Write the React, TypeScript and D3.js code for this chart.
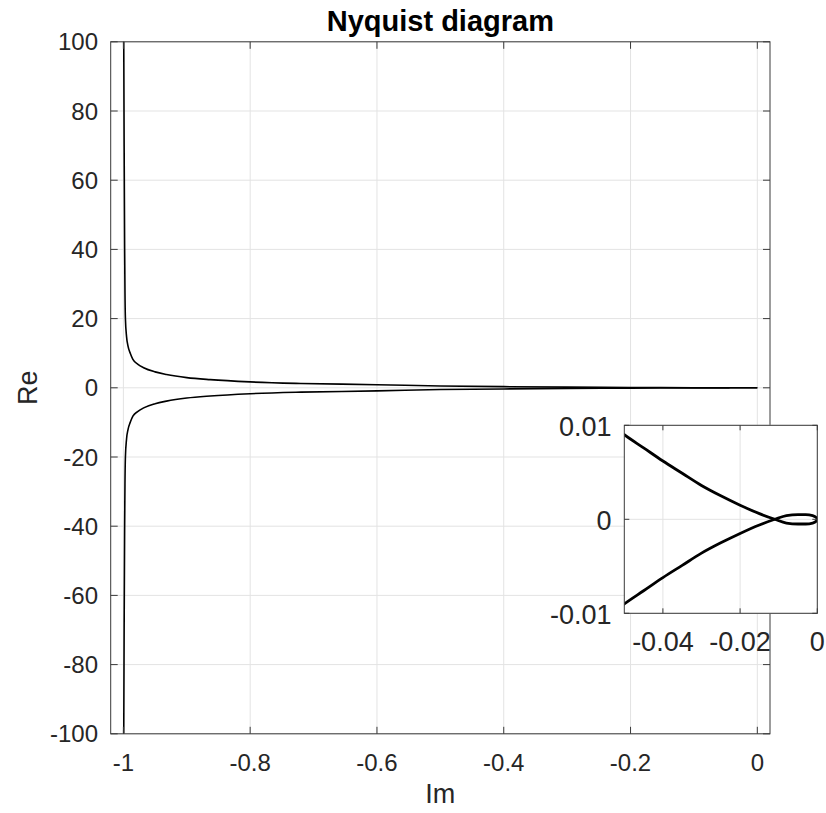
import React from "react";
import * as d3 from "d3";

// Upper branch of the Nyquist curve (Im on x, Re on y); lower branch is its mirror
const branchX = [-0.9996, -0.9988, -0.998, -0.9975, -0.9968, -0.995, -0.9926, -0.989, -0.985, -0.977, -0.968, -0.95, -0.932, -0.9, -0.863, -0.8, -0.72, -0.6, -0.5, -0.4, -0.3, -0.2, -0.1, -0.05, -0.045, -0.04, -0.035, -0.03, -0.025, -0.02, -0.015, -0.011, -0.008, -0.005, -0.003, -0.0012, -0.0003, 0];
const branchY = [110, 70, 40, 28, 20, 14.8, 12.0, 9.9, 8.2, 6.8, 5.8, 4.6, 3.85, 2.95, 2.35, 1.7, 1.25, 0.9, 0.5, 0.33, 0.2, 0.1, 0.035, 0.009, 0.0076, 0.0062, 0.0049, 0.0036, 0.0025, 0.0015, 0.0006, 0, -0.0004, -0.0005, -0.0005, -0.0004, -0.0002, 0];

const mainXTicks = [-1, -0.8, -0.6, -0.4, -0.2, 0];
const mainYTicks = [-100, -80, -60, -40, -20, 0, 20, 40, 60, 80, 100];
const insetXTicks = [-0.04, -0.02, 0];
const insetYTicks = [-0.01, 0, 0.01];

const title = "Nyquist diagram";
const xLabel = "Im";
const yLabel = "Re";

const FONT = "'Liberation Sans', Arial, Helvetica, sans-serif";
const TEXT = "#262626";
const AXIS = "#3a3a3a";
const GRID = "#e3e3e3";

const upper = branchX.map((x, i) => [x, branchY[i]] as [number, number]);
const lower = branchX.map((x, i) => [x, -branchY[i]] as [number, number]);

function fmt(v: number) {
  return String(v);
}

export default function App() {
  // main axes
  const M = { left: 110.7, right: 770, top: 41.8, bottom: 733.8 };
  const x = d3.scaleLinear().domain([-1.02, 0.02]).range([M.left, M.right]);
  const y = d3.scaleLinear().domain([-100, 100]).range([M.bottom, M.top]);
  const line = d3.line<[number, number]>().x((d) => x(d[0])).y((d) => y(d[1])).curve(d3.curveMonotoneX);

  // inset axes
  const I = { left: 624.3, right: 817.3, top: 425.3, bottom: 613.3 };
  const xi = d3.scaleLinear().domain([-0.05, 0]).range([I.left, I.right]);
  const yi = d3.scaleLinear().domain([-0.01, 0.01]).range([I.bottom, I.top]);
  const lineI = d3.line<[number, number]>().x((d) => xi(d[0])).y((d) => yi(d[1])).curve(d3.curveMonotoneX);

  const tick = 7;
  const tickI = 5;
  const FS = 24;
  const FSI = 27;

  return (
    <svg width={826} height={813} style={{ position: "absolute", left: 0, top: 0, background: "#fff" }} fontFamily={FONT}>
      <defs>
        <clipPath id="mainClip">
          <rect x={M.left} y={M.top} width={M.right - M.left} height={M.bottom - M.top} />
        </clipPath>
        <clipPath id="insetClip">
          <rect x={I.left} y={I.top} width={I.right - I.left} height={I.bottom - I.top} />
        </clipPath>
      </defs>
      <rect x={0} y={0} width={826} height={813} fill="#fff" />

      {/* main grid */}
      {mainXTicks.map((t) => (
        <line key={"gx" + t} x1={x(t)} x2={x(t)} y1={M.top} y2={M.bottom} stroke={GRID} strokeWidth={1} />
      ))}
      {mainYTicks.map((t) => (
        <line key={"gy" + t} x1={M.left} x2={M.right} y1={y(t)} y2={y(t)} stroke={GRID} strokeWidth={1} />
      ))}

      {/* main curve */}
      <g clipPath="url(#mainClip)">
        <path d={line(upper) || ""} fill="none" stroke="#000" strokeWidth={1.6} />
        <path d={line(lower) || ""} fill="none" stroke="#000" strokeWidth={1.6} />
      </g>

      {/* main box and ticks */}
      <rect x={M.left} y={M.top} width={M.right - M.left} height={M.bottom - M.top} fill="none" stroke={AXIS} strokeWidth={1} />
      {mainXTicks.map((t) => (
        <g key={"tx" + t}>
          <line x1={x(t)} x2={x(t)} y1={M.bottom} y2={M.bottom - tick} stroke={AXIS} />
          <line x1={x(t)} x2={x(t)} y1={M.top} y2={M.top + tick} stroke={AXIS} />
          <text x={x(t)} y={771} textAnchor="middle" fontSize={FS} fill={TEXT}>{fmt(t)}</text>
        </g>
      ))}
      {mainYTicks.map((t) => (
        <g key={"ty" + t}>
          <line x1={M.left} x2={M.left + tick} y1={y(t)} y2={y(t)} stroke={AXIS} />
          <line x1={M.right} x2={M.right - tick} y1={y(t)} y2={y(t)} stroke={AXIS} />
          <text x={98} y={y(t) + 8.5} textAnchor="end" fontSize={FS} fill={TEXT}>{fmt(t)}</text>
        </g>
      ))}

      {/* labels */}
      <text x={(M.left + M.right) / 2} y={31} textAnchor="middle" fontSize={29} fontWeight="bold" fill="#000">{title}</text>
      <text x={(M.left + M.right) / 2} y={803} textAnchor="middle" fontSize={27} fill={TEXT}>{xLabel}</text>
      <text transform={`translate(37, ${(M.top + M.bottom) / 2}) rotate(-90)`} textAnchor="middle" fontSize={27} fill={TEXT}>{yLabel}</text>

      {/* inset */}
      <rect x={I.left} y={I.top} width={I.right - I.left} height={I.bottom - I.top} fill="#fff" />
      {insetXTicks.map((t) => (
        <line key={"igx" + t} x1={xi(t)} x2={xi(t)} y1={I.top} y2={I.bottom} stroke={GRID} strokeWidth={1} />
      ))}
      {insetYTicks.map((t) => (
        <line key={"igy" + t} x1={I.left} x2={I.right} y1={yi(t)} y2={yi(t)} stroke={GRID} strokeWidth={1} />
      ))}
      <g clipPath="url(#insetClip)">
        <path d={lineI(upper) || ""} fill="none" stroke="#000" strokeWidth={2.8} />
        <path d={lineI(lower) || ""} fill="none" stroke="#000" strokeWidth={2.8} />
      </g>
      <rect x={I.left} y={I.top} width={I.right - I.left} height={I.bottom - I.top} fill="none" stroke={AXIS} strokeWidth={1} />
      {insetXTicks.map((t) => (
        <g key={"itx" + t}>
          <line x1={xi(t)} x2={xi(t)} y1={I.bottom} y2={I.bottom - tickI} stroke={AXIS} />
          <line x1={xi(t)} x2={xi(t)} y1={I.top} y2={I.top + tickI} stroke={AXIS} />
          <text x={xi(t)} y={651} textAnchor="middle" fontSize={FSI} fill={TEXT}>{fmt(t)}</text>
        </g>
      ))}
      {insetYTicks.map((t) => (
        <g key={"ity" + t}>
          <line x1={I.left} x2={I.left + tickI} y1={yi(t)} y2={yi(t)} stroke={AXIS} />
          <line x1={I.right} x2={I.right - tickI} y1={yi(t)} y2={yi(t)} stroke={AXIS} />
          <text x={611.5} y={yi(t) + 11} textAnchor="end" fontSize={FSI} fill={TEXT}>{fmt(t)}</text>
        </g>
      ))}
    </svg>
  );
}
